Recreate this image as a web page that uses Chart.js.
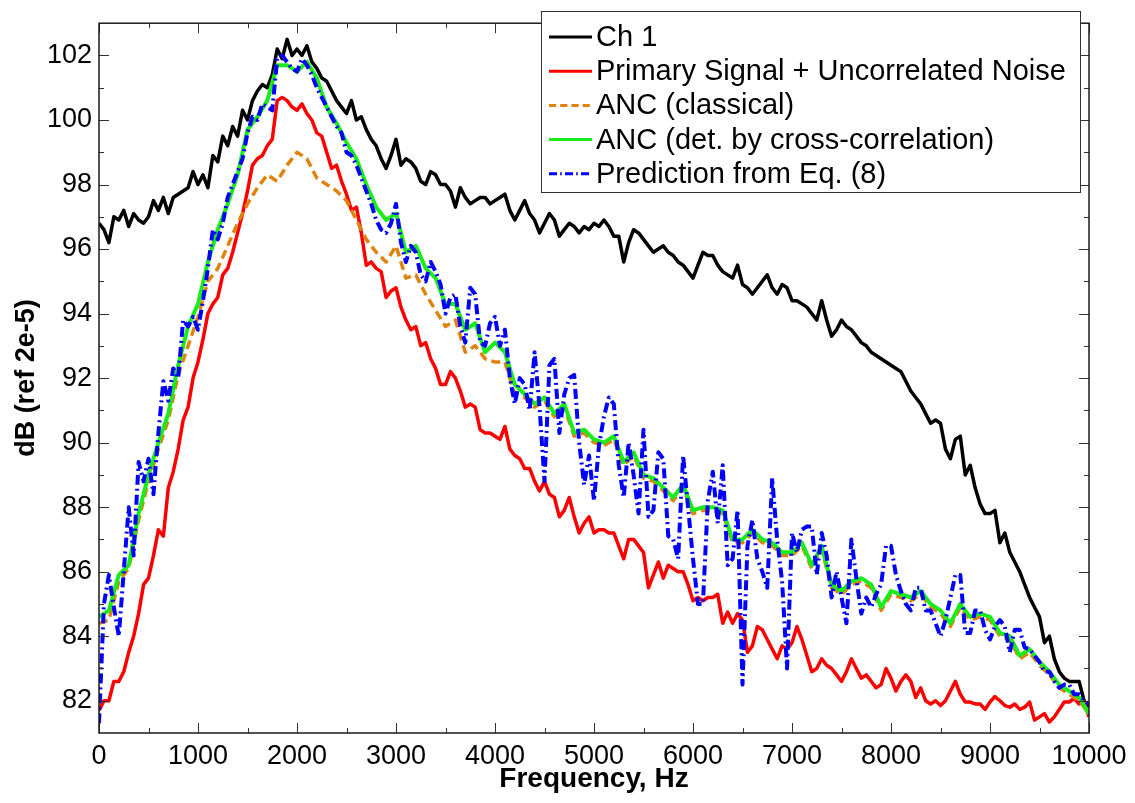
<!DOCTYPE html>
<html>
<head>
<meta charset="utf-8">
<script src="https://cdn.jsdelivr.net/npm/chart.js@4.4.1/dist/chart.umd.min.js"></script>
<style>
  html, body { margin: 0; padding: 0; background: #fff; }
  #wrap { width: 1135px; height: 803px; }
</style>
</head>
<body>
<div id="wrap"><canvas id="chart" width="1135" height="803"></canvas></div>
<script>
// frequency grids, Hz
const FREQ_50 = Array.from({ length: 201 }, (_, i) => i * 50);
const FREQ_100 = Array.from({ length: 101 }, (_, i) => i * 100);

const X_TICKS = [0, 1000, 2000, 3000, 4000, 5000, 6000, 7000, 8000, 9000, 10000];
const X_MINOR = [500, 1500, 2500, 3500, 4500, 5500, 6500, 7500, 8500, 9500];
const Y_TICKS = [82, 84, 86, 88, 90, 92, 94, 96, 98, 100, 102];
const Y_MINOR = [83, 85, 87, 89, 91, 93, 95, 97, 99, 101];

// 50 Hz steps
const CH1 = [
  96.8, 96.6, 96.2, 97.0, 96.9, 97.2, 96.7, 97.1, 96.9, 96.8,
  97.0, 97.5, 97.2, 97.6, 97.1, 97.6, 97.7, 97.8, 97.9, 98.4,
  98.0, 98.3, 97.9, 98.9, 98.7, 99.5, 99.2, 99.8, 99.5, 100.3,
  100.0, 100.6, 100.9, 101.1, 101.0, 101.4, 102.2, 101.9, 102.5, 102.0,
  102.2, 102.0, 102.3, 101.8, 101.6, 101.3, 101.2, 100.9, 100.6, 100.4,
  100.2, 100.6, 100.0, 100.1, 99.7, 99.4, 99.2, 98.8, 98.5, 98.9,
  99.4, 98.6, 98.8, 98.7, 98.5, 98.1, 98.0, 98.4, 98.3, 98.0,
  98.0, 97.8, 97.3, 97.9, 97.6, 97.4, 97.5, 97.6, 97.6, 97.4,
  97.5, 97.6, 97.7, 97.2, 96.9, 97.2, 97.5, 97.1, 96.9, 96.5,
  96.8, 97.1, 96.9, 96.4, 96.6, 96.8, 96.7, 96.5, 96.7, 96.6,
  96.8, 96.7, 96.9, 96.7, 96.4, 96.4, 95.6, 96.2, 96.6, 96.5,
  96.3, 96.1, 95.9, 96.0, 96.1, 95.9, 95.8, 95.6, 95.5, 95.3,
  95.1, 95.5, 95.9, 95.8, 95.8, 95.5, 95.3, 95.2, 95.1, 95.5,
  94.9, 94.8, 94.6, 94.8, 95.0, 95.2, 94.8, 94.6, 94.9, 94.8,
  94.4, 94.4, 94.3, 94.2, 94.0, 93.8, 94.4, 93.8, 93.3, 93.5,
  93.8, 93.6, 93.5, 93.3, 93.1, 93.0, 92.8, 92.7, 92.6, 92.5,
  92.4, 92.3, 92.2, 91.9, 91.6, 91.4, 91.2, 90.9, 90.6, 90.7,
  90.6, 89.8, 89.5, 90.1, 90.2, 89.0, 89.3, 88.6, 88.1, 87.8,
  87.8, 87.9, 86.9, 87.2, 86.6, 86.3, 86.0, 85.6, 85.2, 84.9,
  84.6, 83.8, 84.0, 83.3, 82.9, 82.7, 82.6, 82.6, 82.6, 82.0,
  81.8
];

// 50 Hz steps
const PRIMARY = [
  81.7, 82.0, 82.0, 82.6, 82.6, 82.9, 83.5, 84.0, 84.7, 85.6,
  85.8, 86.5, 87.3, 87.1, 88.6, 89.1, 89.8, 90.7, 91.1, 92.0,
  92.5, 93.2, 94.0, 94.3, 94.5, 95.2, 95.4, 95.9, 96.5, 97.1,
  97.8, 98.6, 98.8, 98.9, 99.2, 99.4, 100.6, 100.7, 100.6, 100.4,
  100.3, 100.5, 100.2, 100.0, 99.6, 99.5, 99.0, 98.5, 98.6, 98.1,
  97.7, 97.2, 97.3, 96.5, 95.5, 95.6, 95.4, 95.3, 94.5, 94.7,
  94.8, 94.2, 93.8, 93.5, 93.6, 93.0, 93.1, 92.6, 92.3, 91.8,
  91.8, 92.2, 92.0, 91.6, 91.1, 91.2, 91.1, 90.4, 90.3, 90.3,
  90.2, 90.1, 90.5, 89.8, 89.6, 89.5, 89.2, 89.2, 88.8, 88.5,
  88.8, 88.4, 88.3, 87.7, 87.9, 88.3, 87.7, 87.2, 87.5, 87.7,
  87.2, 87.3, 87.3, 87.2, 87.2, 86.8, 86.4, 87.0, 87.0, 86.8,
  86.6, 85.5, 85.9, 86.3, 85.8, 86.2, 86.1, 86.0, 86.0, 85.6,
  85.1, 85.2, 85.1, 85.2, 85.2, 85.3, 84.4, 84.75, 84.4, 84.7,
  84.5, 83.5, 83.7, 84.3, 84.2, 83.9, 83.6, 83.3, 83.7, 83.6,
  83.8, 84.3, 83.9, 83.4, 82.9, 83.0, 83.3, 83.1, 83.0, 82.8,
  82.6, 82.9, 83.3, 83.0, 82.7, 82.8, 82.6, 82.4, 82.5, 83.0,
  82.7, 82.3, 82.6, 82.8, 82.6, 82.1, 82.4, 82.0, 81.9, 82.0,
  81.85, 82.0, 82.3, 82.6, 82.2, 81.96, 81.96, 81.9, 81.9, 81.73,
  81.96, 82.13, 82.0, 81.85, 81.8, 81.9, 81.73, 81.8, 81.96, 81.4,
  81.5, 81.6, 81.34, 81.5, 81.73, 81.96, 81.96, 82.07, 81.9, 81.96,
  81.5
];

// 100 Hz steps
const ANC_CLASSICAL = [
  84.4, 84.5, 85.7, 86.1, 87.6, 88.8, 89.8, 90.7, 92.1, 93.0,
  93.9, 95.0, 95.4, 96.1, 96.8, 97.4, 97.9, 98.3, 98.1, 98.6,
  99.0, 98.8, 98.2, 98.0, 97.8, 97.5, 96.9, 96.3, 95.9, 95.6,
  96.1, 95.1, 95.2, 94.6, 94.1, 93.6, 93.8, 92.8, 93.0, 92.6,
  92.5, 92.5, 91.5, 91.4, 91.1, 91.3, 90.8, 91.1, 90.2, 90.3,
  90.0, 89.9, 90.1, 89.3, 89.6, 88.9, 88.8, 88.5, 88.2, 88.6,
  87.8, 87.9, 87.9, 87.8, 86.9, 86.9, 87.2, 86.9, 86.8, 86.5,
  86.5, 86.8, 86.1, 86.7, 85.5, 85.3, 85.6, 85.7, 85.5, 84.8,
  85.3, 85.2, 85.1, 85.3, 84.9, 84.7, 84.3, 84.9, 84.5, 84.6,
  84.5, 84.0, 83.9, 83.3, 83.5, 83.1, 82.8, 82.4, 82.2, 82.0,
  81.6
];

// 100 Hz steps
const ANC_XCORR = [
  84.6, 84.8, 85.9, 86.2, 87.8, 89.0, 90.0, 90.9, 92.4, 93.6,
  94.3, 95.6, 96.6, 97.4, 98.3, 99.7, 100.1, 100.6, 101.7, 101.7,
  101.5, 101.8, 101.3, 100.4, 99.9, 99.3, 98.8, 98.0, 97.3, 96.9,
  97.1, 95.9, 96.1, 95.4, 95.1, 94.3, 94.3, 93.5, 93.7, 92.8,
  93.1, 92.8, 91.8, 91.5, 91.2, 91.4, 90.9, 91.2, 90.3, 90.4,
  90.1, 90.0, 90.2, 89.4, 89.7, 89.0, 88.9, 88.6, 88.3, 88.7,
  87.9, 88.0, 88.0, 87.9, 87.0, 87.0, 87.3, 87.0, 86.9, 86.6,
  86.6, 86.9, 86.2, 86.8, 85.6, 85.4, 85.7, 85.8, 85.6, 84.9,
  85.4, 85.3, 85.2, 85.4, 85.0, 84.8, 84.4, 85.0, 84.6, 84.7,
  84.6, 84.1, 84.0, 83.4, 83.6, 83.2, 82.9, 82.5, 82.3, 82.1,
  81.6
];

// 50 Hz steps
const PREDICTION = [
  81.3, 85.0, 85.9, 84.9, 84.0, 86.0, 88.0, 86.5, 89.4, 88.8,
  89.5, 88.4, 90.3, 91.9, 91.3, 92.3, 92.0, 93.8, 93.6, 93.9,
  93.5, 94.4, 95.4, 96.6, 96.3, 96.8, 97.6, 98.0, 98.4, 98.8,
  99.6, 100.1, 100.0, 100.5, 100.4, 100.3, 101.9, 102.0, 101.8, 101.6,
  101.5, 101.9, 101.7, 101.4, 101.0, 100.7, 100.4, 100.1, 99.8, 99.6,
  99.0, 98.9, 98.6, 98.2, 97.8, 97.4, 96.9, 96.6, 96.5, 96.8,
  97.4, 96.2, 95.6, 96.1, 95.9, 95.2, 95.0, 95.6, 95.3, 94.9,
  94.0, 94.5, 94.6, 93.6, 93.1, 94.8, 94.6, 93.1, 93.0, 93.7,
  93.9, 93.0, 93.5, 92.0, 91.2, 92.0, 91.8, 91.0, 92.8, 91.1,
  88.8, 92.4, 92.6, 90.3, 91.5, 92.0, 92.1, 90.0, 88.7, 89.6,
  88.2, 89.9, 90.8, 91.4, 91.2, 89.3, 88.3, 90.0, 89.0, 87.8,
  90.4, 87.7, 87.9, 89.7, 89.5, 87.1, 87.0, 86.4, 89.6, 88.0,
  86.4, 85.0, 85.0, 88.2, 89.1, 87.5, 89.3, 86.2, 86.4, 87.9,
  82.5, 86.8, 87.6, 86.4, 86.0, 85.5, 88.9, 87.0, 85.7, 83.0,
  87.2, 86.6, 87.3, 87.4, 87.4, 85.9, 87.2, 86.5, 85.2, 86.0,
  85.2, 84.4, 87.0, 85.8, 84.7, 85.2, 84.9, 85.3, 85.6, 86.8,
  86.8, 85.9, 85.4, 85.0, 84.8, 85.5, 85.5, 84.8, 84.8, 84.4,
  84.0, 84.5, 85.2, 85.9, 85.9, 84.1, 84.1, 84.8, 84.8, 84.2,
  83.9, 84.3, 84.5, 84.3, 83.5, 84.2, 84.2, 83.65, 83.6, 83.4,
  83.2, 82.9, 82.9, 82.6, 82.4, 82.5, 82.5, 82.2, 82.2, 82.0,
  81.9
];

const SERIES = [
  { label: 'Ch 1', freq: FREQ_50, values: CH1, color: '#000000', width: 3.5, dash: [], order: 5 },
  { label: 'Primary Signal + Uncorrelated Noise', freq: FREQ_50, values: PRIMARY, color: '#ff0000', width: 3.5, dash: [], order: 4 },
  { label: 'ANC (classical)', freq: FREQ_100, values: ANC_CLASSICAL, color: '#e0820e', width: 3.5, dash: [9, 5], order: 3 },
  { label: 'ANC (det. by cross-correlation)', freq: FREQ_100, values: ANC_XCORR, color: '#1aeb1a', width: 4, dash: [], order: 2 },
  { label: 'Prediction from Eq. (8)', freq: FREQ_50, values: PREDICTION, color: '#0000ff', width: 4, dash: [10, 4, 2, 4], order: 1 },
];

const FONT = "'Liberation Sans', Arial, sans-serif";

function drawLegend(ctx) {
  const box = { left: 541, top: 11, right: 1080, bottom: 192 };
  ctx.save();
  ctx.fillStyle = '#fff';
  ctx.fillRect(box.left, box.top, box.right - box.left, box.bottom - box.top);
  ctx.strokeStyle = '#333';
  ctx.lineWidth = 1;
  ctx.strokeRect(box.left + 0.5, box.top + 0.5, box.right - box.left, box.bottom - box.top);
  ctx.font = '29px ' + FONT;
  ctx.textBaseline = 'middle';
  ctx.fillStyle = '#000';
  SERIES.forEach((s, i) => {
    const yy = 37 + i * 34.2;
    ctx.strokeStyle = s.color;
    ctx.lineWidth = 3;
    ctx.setLineDash(s.dash.length ? s.dash.map(d => d * 0.8) : []);
    ctx.beginPath();
    ctx.moveTo(549, yy);
    ctx.lineTo(592, yy);
    ctx.stroke();
    ctx.setLineDash([]);
    ctx.fillText(s.label, 596, yy + 1);
  });
  ctx.restore();
}

const framePlugin = {
  id: 'frame',
  afterDatasetsDraw(chart) {
    const { ctx, chartArea: a, scales: { x, y } } = chart;
    ctx.save();
    ctx.strokeStyle = '#333';
    ctx.lineWidth = 1;
    ctx.beginPath();
    const xt = (v, len) => {
      const p = Math.round(x.getPixelForValue(v)) + 0.5;
      ctx.moveTo(p, a.bottom); ctx.lineTo(p, a.bottom - len);
      ctx.moveTo(p, a.top); ctx.lineTo(p, a.top + len);
    };
    const yt = (v, len) => {
      const p = Math.round(y.getPixelForValue(v)) + 0.5;
      ctx.moveTo(a.left, p); ctx.lineTo(a.left + len, p);
      ctx.moveTo(a.right, p); ctx.lineTo(a.right - len, p);
    };
    X_TICKS.forEach(v => xt(v, 10));
    X_MINOR.forEach(v => xt(v, 5));
    Y_TICKS.forEach(v => yt(v, 10));
    Y_MINOR.forEach(v => yt(v, 5));
    ctx.stroke();
    ctx.strokeStyle = '#1a1a1a';
    ctx.lineWidth = 1.5;
    ctx.strokeRect(a.left, a.top, a.right - a.left, a.bottom - a.top);
    ctx.restore();
    drawLegend(ctx);
  }
};

Chart.defaults.font.family = FONT;
Chart.defaults.color = '#000';

new Chart(document.getElementById('chart'), {
  type: 'line',
  data: {
    datasets: SERIES.map(s => ({
      label: s.label,
      data: s.freq.map((f, i) => ({ x: f, y: s.values[i] })),
      borderColor: s.color,
      backgroundColor: s.color,
      borderWidth: s.width,
      borderDash: s.dash,
      borderJoinStyle: 'round',
      pointRadius: 0,
      tension: 0,
      fill: false,
      order: s.order,
    }))
  },
  options: {
    responsive: false,
    animation: false,
    devicePixelRatio: 1,
    layout: { padding: { left: 0, top: 6, right: 46, bottom: 0 } },
    plugins: { legend: { display: false }, tooltip: { enabled: false } },
    scales: {
      x: {
        type: 'linear',
        min: 0, max: 10000,
        grid: { display: false, drawTicks: false },
        border: { display: false },
        afterBuildTicks: s => { s.ticks = X_TICKS.map(v => ({ value: v })); },
        afterFit: s => { s.height = 70; },
        ticks: { font: { size: 27 }, padding: 7, maxRotation: 0, autoSkip: false, callback: v => String(v) },
        title: { display: true, text: 'Frequency, Hz', font: { size: 28, weight: 'bold' }, padding: { top: 0, bottom: 7 } }
      },
      y: {
        type: 'linear',
        min: 81, max: 103,
        grid: { display: false, drawTicks: false },
        border: { display: false },
        afterBuildTicks: s => { s.ticks = Y_TICKS.map(v => ({ value: v })); },
        afterFit: s => { s.width = 99; },
        ticks: { font: { size: 27 }, padding: 7, autoSkip: false, callback: v => String(v) },
        title: { display: true, text: 'dB (ref 2e-5)', font: { size: 27, weight: 'bold' }, padding: { top: 10, bottom: 0 } }
      }
    }
  },
  plugins: [framePlugin]
});
</script>
</body>
</html>
